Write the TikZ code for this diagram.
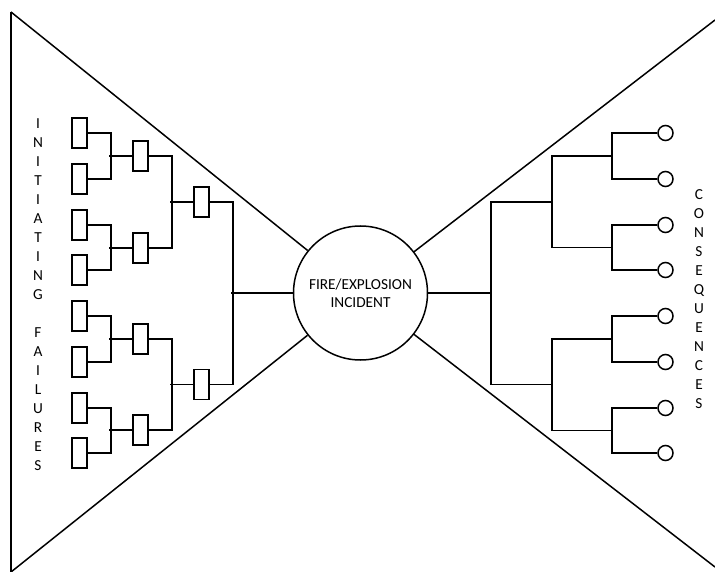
\documentclass[tikz,border=0pt]{standalone}
\usepackage{fontspec}
\setmainfont{Carlito}
\usetikzlibrary{positioning}

\begin{document}
\begin{tikzpicture}[
x=1pt, y=-1pt,
line width=1.5pt,
cause/.style={draw, rectangle, minimum width=15pt, minimum height=30pt, inner sep=0pt},
outcome/.style={draw, circle, minimum size=15pt, inner sep=0pt},
incident/.style={draw, circle, minimum size=134pt, inner sep=0pt, align=center, font=\fontsize{15.3}{18}\selectfont},
column/.style={align=center, inner sep=0pt, font=\fontsize{15.3}{19}\selectfont}
]
\useasboundingbox (0,0) rectangle (715,572);

% bow tie
\node[incident] (fire) at (360.5,293) {FIRE/EXPLOSION\\INCIDENT};
\coordinate (lt) at (11,12);
\coordinate (lb) at (11,572);
\coordinate (rt) at (715,20);
\coordinate (rb) at (715,567);
\draw (lt) -- (lb);
\draw (lt) -- (fire);
\draw (lb) -- (fire);
\draw (rt) -- (fire);
\draw (rb) -- (fire);

% causes
\foreach \n/\y in {1/133, 2/179, 3/225, 4/270, 5/316, 6/362, 7/408, 8/453}
  \node[cause] (f\n) at (79.5,\y) {};
\foreach \n/\y in {1/156, 2/248, 3/339, 4/430}
  \node[cause] (g\n) at (140.5,\y) {};
\node[cause] (h1) at (201.5,202) {};
\node[cause] (h2) at (201.5,384.5) {};

\foreach \a/\b/\c in {f1/f2/g1, f3/f4/g2, f5/f6/g3, f7/f8/g4, g1/g2/h1, g3/g4/h2} {
  \draw (\a.east) -- ++(23,0) |- (\b.east);
  \draw (\c.west) -- ++(-23,0);
}
\draw (h1.east) -- ++(23,0) |- (h2.east);
\draw (fire.west) -- ++(-62,0);

% consequences
\foreach \n/\y in {1/133, 2/179, 3/225, 4/270, 5/316, 6/362, 7/408, 8/453}
  \node[outcome] (c\n) at (665.5,\y) {};
\coordinate (k1) at (612,156);
\coordinate (k2) at (612,247.5);
\coordinate (k3) at (612,339);
\coordinate (k4) at (612,430.5);
\coordinate (m1) at (552,202);
\coordinate (m2) at (552,384.5);
\coordinate (n0) at (491,293);
\draw (c1.west) -| (k1) |- (c2.west);
\draw (c3.west) -| (k2) |- (c4.west);
\draw (c5.west) -| (k3) |- (c6.west);
\draw (c7.west) -| (k4) |- (c8.west);
\draw (k1) -| (m1) |- (k2);
\draw (k3) -| (m2) |- (k4);
\draw (m1) -| (n0) |- (m2);
\draw (fire.east) -- (n0);

% labels
\node[column] (initiating) at (38,295) {I\\N\\I\\T\\I\\A\\T\\I\\N\\G\\[19pt]F\\A\\I\\L\\U\\R\\E\\S};
\node[column] (consequences) at (699,299.5) {C\\O\\N\\S\\E\\Q\\U\\E\\N\\C\\E\\S};
\end{tikzpicture}
\end{document}
